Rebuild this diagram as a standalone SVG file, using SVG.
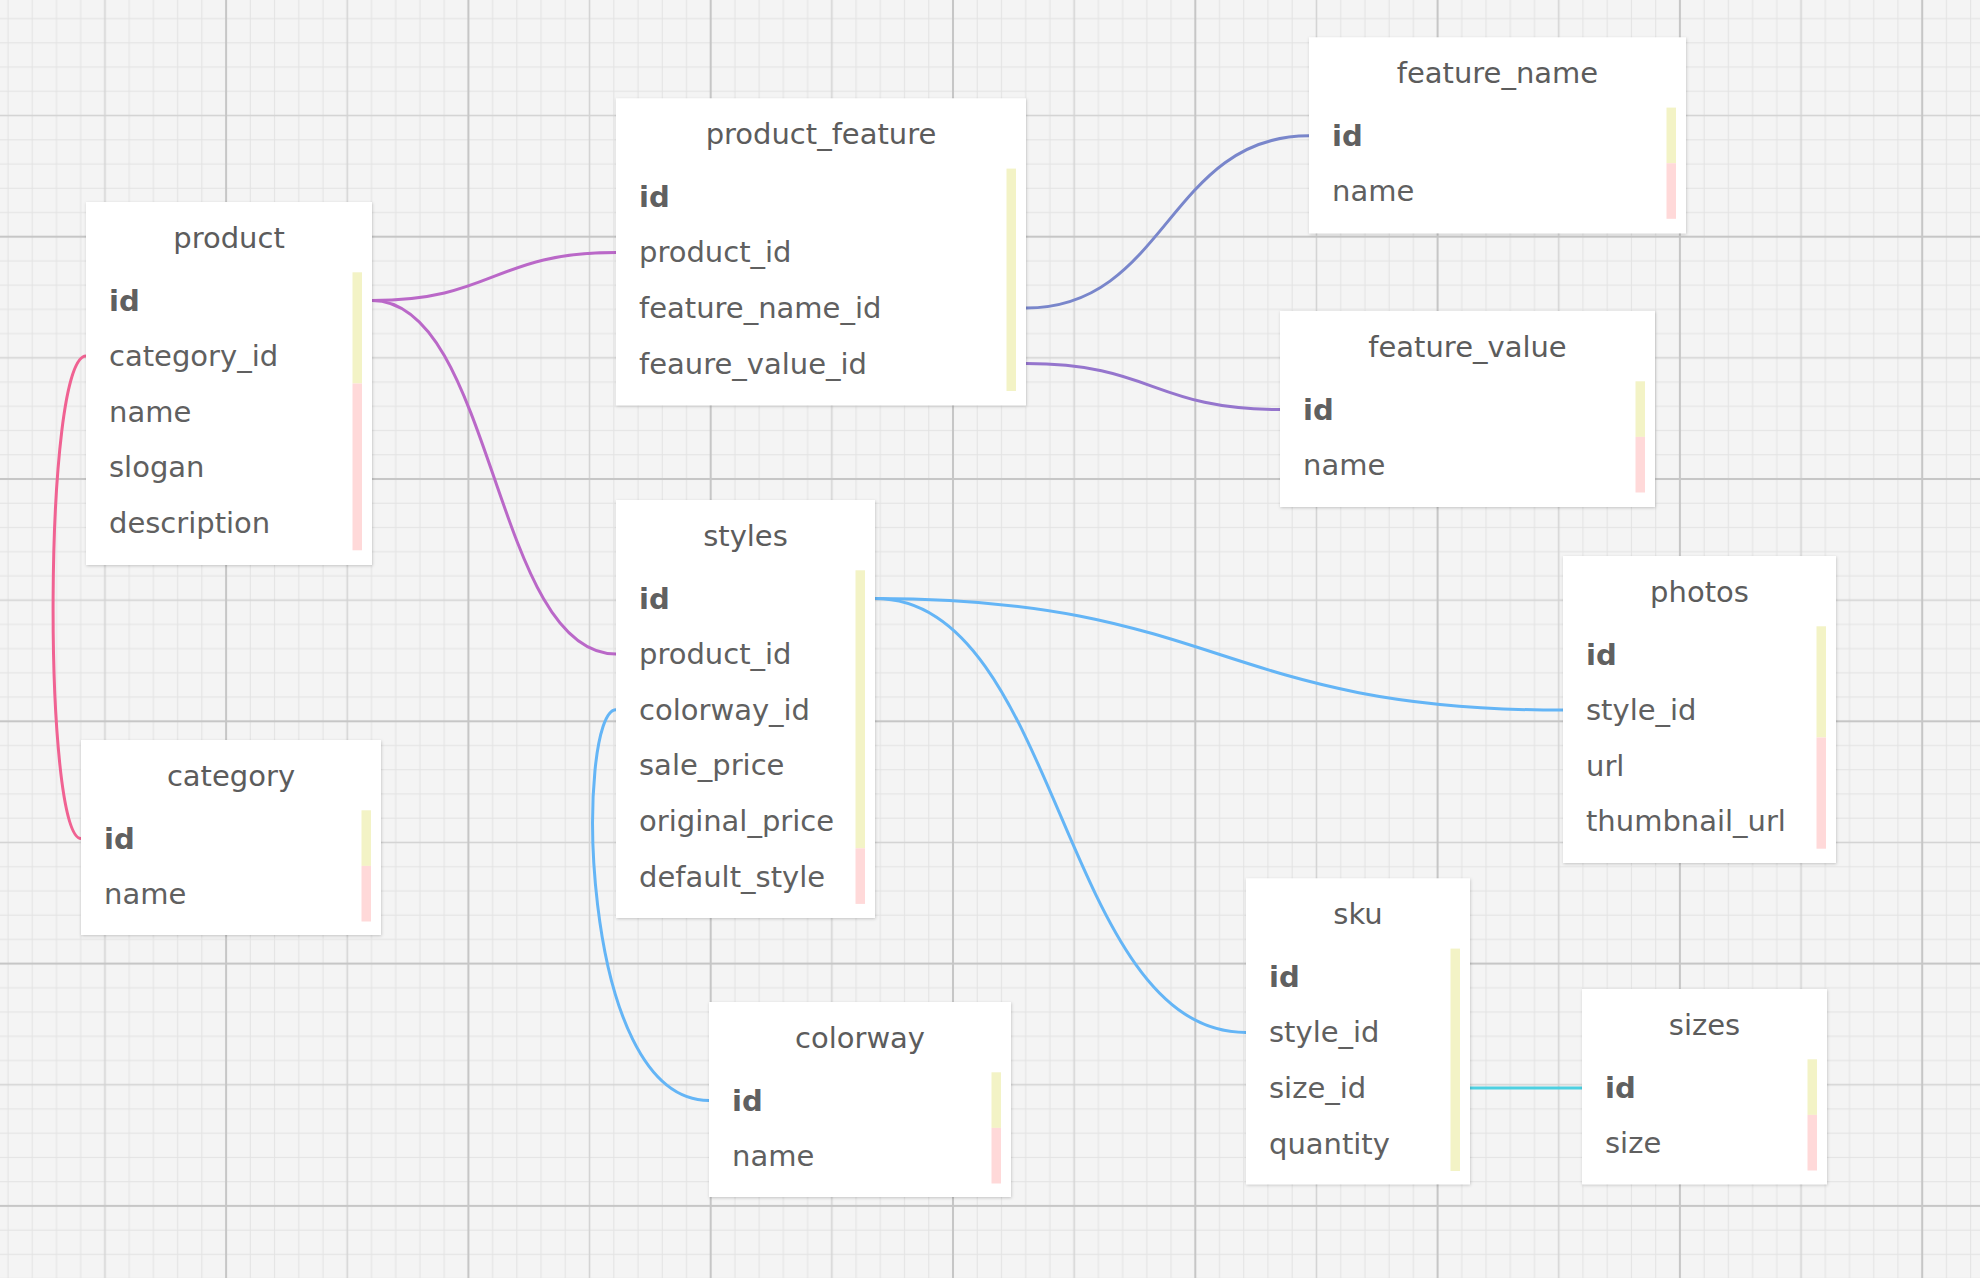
<svg xmlns="http://www.w3.org/2000/svg" width="1980" height="1278" viewBox="0 0 1980 1278">
  <defs>
    <pattern id="grid" x="-16.2" y="-5.6" width="242.3" height="242.3" patternUnits="userSpaceOnUse">
      <rect width="242.3" height="242.3" fill="#f4f4f4"/>
      <g fill="#e3e3e3">
        <rect x="23.73" y="0" width="1" height="242.3"/>
        <rect x="47.96" y="0" width="1" height="242.3"/>
        <rect x="72.19" y="0" width="1" height="242.3"/>
        <rect x="96.42" y="0" width="1" height="242.3"/>
        <rect x="144.88" y="0" width="1" height="242.3"/>
        <rect x="169.11" y="0" width="1" height="242.3"/>
        <rect x="193.34" y="0" width="1" height="242.3"/>
        <rect x="217.57" y="0" width="1" height="242.3"/>
        <rect y="23.73" x="0" height="1" width="242.3"/>
        <rect y="47.96" x="0" height="1" width="242.3"/>
        <rect y="72.19" x="0" height="1" width="242.3"/>
        <rect y="96.42" x="0" height="1" width="242.3"/>
        <rect y="144.88" x="0" height="1" width="242.3"/>
        <rect y="169.11" x="0" height="1" width="242.3"/>
        <rect y="193.34" x="0" height="1" width="242.3"/>
        <rect y="217.57" x="0" height="1" width="242.3"/>
      </g>
      <g fill="#d3d3d3">
        <rect x="120.4" y="0" width="1.5" height="242.3"/>
        <rect y="120.4" x="0" height="1.5" width="242.3"/>
      </g>
      <g fill="#c6c6c6">
        <rect x="0" y="0" width="1" height="242.3"/>
        <rect x="241.3" y="0" width="1" height="242.3"/>
        <rect y="0" x="0" height="1" width="242.3"/>
        <rect y="241.3" x="0" height="1" width="242.3"/>
      </g>
    </pattern>
    <filter id="shadow" x="-10%" y="-10%" width="120%" height="120%">
      <feDropShadow dx="0.5" dy="1" stdDeviation="1.6" flood-color="#000" flood-opacity="0.2"/>
    </filter>
  </defs>
  <style>
    .box { fill: #ffffff; filter: url(#shadow); }
    .title { font-family: "DejaVu Sans", Verdana, sans-serif; font-size: 29px; fill: #5c5c5c; text-anchor: middle; }
    .col { font-family: "DejaVu Sans", Verdana, sans-serif; font-size: 29px; fill: #606060; }
    .pk { font-weight: bold; }
    .req { fill: #f3f3c6; }
    .opt { fill: #ffd9d9; }
    .link { fill: none; stroke-width: 3; stroke-linecap: round; }
  </style>

  <!-- canvas grid -->
  <rect width="1980" height="1278" fill="url(#grid)"/>

  <!-- relations -->
  <g id="connectors">
    <path class="link" stroke="#f06292" d="M86 356.1 C43 356.1 43 838.5 81 838.5"/>
    <path class="link" stroke="#ba68c8" d="M372 300.5 C494 300.5 494 252.4 616 252.4"/>
    <path class="link" stroke="#ba68c8" d="M372 300.5 C494 300.5 494 654.1 616 654.1"/>
    <path class="link" stroke="#7986cb" d="M1026 308 C1167.5 308 1167.5 135.8 1309 135.8"/>
    <path class="link" stroke="#9575cd" d="M1026 363.6 C1153 363.6 1153 409.5 1280 409.5"/>
    <path class="link" stroke="#64b5f6" d="M875 598.5 C1219 598.5 1219 710.1 1563 710.1"/>
    <path class="link" stroke="#64b5f6" d="M875 598.5 C1060.5 598.5 1060.5 1032.4 1246 1032.4"/>
    <path class="link" stroke="#64b5f6" d="M616 709.7 C576 709.7 576 1100.5 709 1100.5"/>
    <path class="link" stroke="#4dd0e1" d="M1470 1088 L1582 1088"/>
  </g>

  <g id="product">
    <rect class="box" x="86" y="202" width="286" height="363"/>
    <text class="title" x="229" y="247.5">product</text>
    <rect class="req" x="352.5" y="272.3" width="9.5" height="111.2"/>
    <rect class="opt" x="352.5" y="383.5" width="9.5" height="166.8"/>
    <text class="col pk" x="109" y="310.5">id</text>
    <text class="col" x="109" y="366.1">category_id</text>
    <text class="col" x="109" y="421.7">name</text>
    <text class="col" x="109" y="477.3">slogan</text>
    <text class="col" x="109" y="532.9">description</text>
  </g>

  <g id="product_feature">
    <rect class="box" x="616" y="98.3" width="410" height="307"/>
    <text class="title" x="821" y="143.8">product_feature</text>
    <rect class="req" x="1006.5" y="168.6" width="9.5" height="222.4"/>
    <text class="col pk" x="639" y="206.8">id</text>
    <text class="col" x="639" y="262.4">product_id</text>
    <text class="col" x="639" y="318">feature_name_id</text>
    <text class="col" x="639" y="373.6">feaure_value_id</text>
  </g>

  <g id="feature_name">
    <rect class="box" x="1309" y="37.3" width="377" height="196"/>
    <text class="title" x="1497.5" y="82.8">feature_name</text>
    <rect class="req" x="1666.5" y="107.6" width="9.5" height="55.6"/>
    <rect class="opt" x="1666.5" y="163.2" width="9.5" height="55.6"/>
    <text class="col pk" x="1332" y="145.8">id</text>
    <text class="col" x="1332" y="201.4">name</text>
  </g>

  <g id="feature_value">
    <rect class="box" x="1280" y="311" width="375" height="196"/>
    <text class="title" x="1467.5" y="356.5">feature_value</text>
    <rect class="req" x="1635.5" y="381.3" width="9.5" height="55.6"/>
    <rect class="opt" x="1635.5" y="436.9" width="9.5" height="55.6"/>
    <text class="col pk" x="1303" y="419.5">id</text>
    <text class="col" x="1303" y="475.1">name</text>
  </g>

  <g id="category">
    <rect class="box" x="81" y="740" width="300" height="195"/>
    <text class="title" x="231" y="785.5">category</text>
    <rect class="req" x="361.5" y="810.3" width="9.5" height="55.6"/>
    <rect class="opt" x="361.5" y="865.9" width="9.5" height="55.6"/>
    <text class="col pk" x="104" y="848.5">id</text>
    <text class="col" x="104" y="904.1">name</text>
  </g>

  <g id="styles">
    <rect class="box" x="616" y="500" width="259" height="418"/>
    <text class="title" x="745.5" y="545.5">styles</text>
    <rect class="req" x="855.5" y="570.3" width="9.5" height="278"/>
    <rect class="opt" x="855.5" y="848.3" width="9.5" height="55.6"/>
    <text class="col pk" x="639" y="608.5">id</text>
    <text class="col" x="639" y="664.1">product_id</text>
    <text class="col" x="639" y="719.7">colorway_id</text>
    <text class="col" x="639" y="775.3">sale_price</text>
    <text class="col" x="639" y="830.9">original_price</text>
    <text class="col" x="639" y="886.5">default_style</text>
  </g>

  <g id="photos">
    <rect class="box" x="1563" y="556" width="273" height="307"/>
    <text class="title" x="1699.5" y="601.5">photos</text>
    <rect class="req" x="1816.5" y="626.3" width="9.5" height="111.2"/>
    <rect class="opt" x="1816.5" y="737.5" width="9.5" height="111.2"/>
    <text class="col pk" x="1586" y="664.5">id</text>
    <text class="col" x="1586" y="720.1">style_id</text>
    <text class="col" x="1586" y="775.7">url</text>
    <text class="col" x="1586" y="831.3">thumbnail_url</text>
  </g>

  <g id="sku">
    <rect class="box" x="1246" y="878.3" width="224" height="306"/>
    <text class="title" x="1358" y="923.8">sku</text>
    <rect class="req" x="1450.5" y="948.6" width="9.5" height="222.4"/>
    <text class="col pk" x="1269" y="986.8">id</text>
    <text class="col" x="1269" y="1042.4">style_id</text>
    <text class="col" x="1269" y="1098">size_id</text>
    <text class="col" x="1269" y="1153.6">quantity</text>
  </g>

  <g id="sizes">
    <rect class="box" x="1582" y="989" width="245" height="195.3"/>
    <text class="title" x="1704.5" y="1034.5">sizes</text>
    <rect class="req" x="1807.5" y="1059.3" width="9.5" height="55.6"/>
    <rect class="opt" x="1807.5" y="1114.9" width="9.5" height="55.6"/>
    <text class="col pk" x="1605" y="1097.5">id</text>
    <text class="col" x="1605" y="1153.1">size</text>
  </g>

  <g id="colorway">
    <rect class="box" x="709" y="1002" width="302" height="195"/>
    <text class="title" x="860" y="1047.5">colorway</text>
    <rect class="req" x="991.5" y="1072.3" width="9.5" height="55.6"/>
    <rect class="opt" x="991.5" y="1127.9" width="9.5" height="55.6"/>
    <text class="col pk" x="732" y="1110.5">id</text>
    <text class="col" x="732" y="1166.1">name</text>
  </g>
</svg>
